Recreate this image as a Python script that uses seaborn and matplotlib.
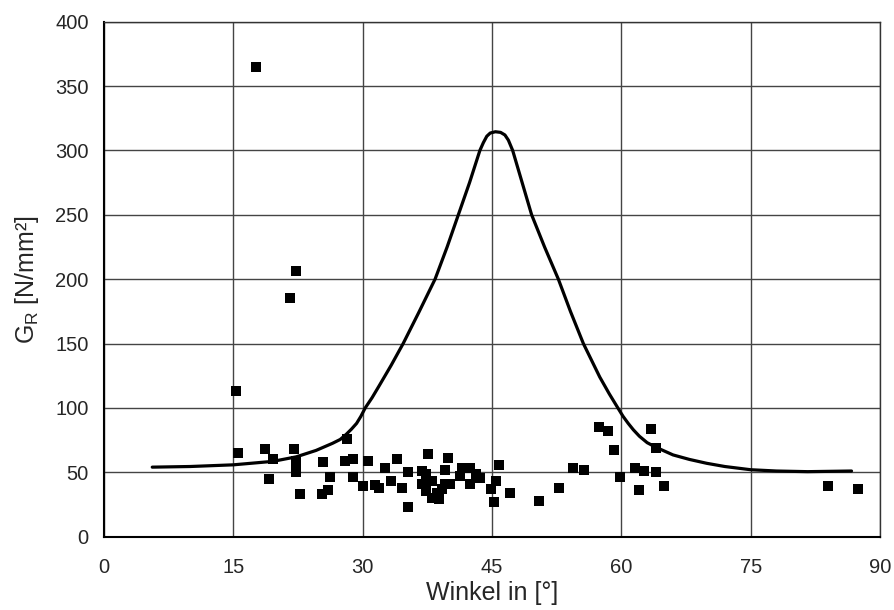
import numpy as np
import pandas as pd
import matplotlib
matplotlib.use("Agg")
import matplotlib.pyplot as plt
import seaborn as sns

# measured points (angle in degrees, G_R in N/mm^2)
winkel = [15.3, 15.6, 17.6, 18.7, 19.1, 19.6, 21.6, 22.3, 22.0, 22.3, 22.3, 22.3,
          22.7, 25.3, 25.4, 26.0, 26.2, 27.9, 28.2, 28.9, 28.9, 30.0, 30.6, 31.4,
          31.9, 32.6, 33.3, 34.0, 34.6, 35.3, 35.3, 36.9, 36.9, 37.4, 37.4, 37.6,
          38.0, 38.0, 38.6, 38.9, 39.2, 39.5, 39.6, 39.9, 40.1, 41.3, 41.5, 42.5,
          42.5, 43.2, 43.6, 44.9, 45.2, 45.5, 45.8, 47.1, 50.5, 52.8, 54.4, 55.7,
          57.4, 58.4, 59.1, 59.9, 61.6, 62.0, 62.6, 63.4, 64.0, 64.0, 65.0, 84.0,
          87.5]
g_mess = [113, 65, 365, 68, 44.5, 60, 185, 206, 68, 59, 55, 50,
          33, 33.5, 58, 36, 46, 59, 76, 60, 46, 39, 59, 40,
          38, 53, 43, 60, 38, 23, 50, 51, 41, 49, 35.5, 64.5,
          43, 30, 34, 29, 37, 52, 41, 61, 41, 47, 53, 53,
          41, 49, 45.5, 37, 27, 43, 56, 34, 28, 38, 53, 52,
          85, 82, 67, 46, 53.5, 36, 51, 83.5, 69, 50, 39, 39,
          37]

# theoretical curve
winkel_kurve = [5.6, 10, 15, 19.6, 22.3, 24.6, 26.5, 27.4, 28.1, 28.7, 29.3, 29.8,
                30.3, 31.1, 31.9, 33.3, 34.7, 36.5, 38.4, 39.8, 41.1, 42.4, 43.6,
                44.0, 44.4, 44.8, 45.4, 46.0, 46.5, 46.9, 47.4, 48.5, 49.6, 51.1,
                52.7, 54.1, 55.6, 57.5, 58.6, 59.6, 60.2, 60.8, 61.4, 62.1, 63.0,
                64.0, 66.0, 67.9, 69.9, 72.0, 75.0, 78.0, 81.6, 86.7]
g_kurve = [54, 54.5, 55.8, 58.5, 62, 67, 72.5, 75.5, 79.5, 83.5, 88, 93.5,
           100, 108, 117, 133, 150, 174, 200, 225, 250, 275, 300,
           306, 311, 313.5, 314.5, 314, 312, 308, 300, 275, 250, 225,
           200, 175, 150, 124, 111, 100, 93.5, 88, 83, 78, 73,
           69.5, 63.5, 60, 57, 54.5, 52, 51, 50.5, 51]

df_mess = pd.DataFrame({"Winkel": winkel, "G": g_mess})
df_kurve = pd.DataFrame({"Winkel": winkel_kurve, "G": g_kurve})

sns.set_style("white")
plt.rcParams["font.family"] = ["Liberation Sans", "DejaVu Sans"]

fig = plt.figure(figsize=(8.94, 6.10), dpi=100)
ax = fig.add_axes([0.1163, 0.1202, 0.868, 0.8443])

sns.lineplot(data=df_kurve, x="Winkel", y="G", color="black", linewidth=2.3,
             sort=False, ax=ax)
sns.scatterplot(data=df_mess, x="Winkel", y="G", marker="s", s=42,
                color="black", edgecolor="black", linewidth=0, ax=ax, zorder=3)

ax.set_xlim(0, 90)
ax.set_ylim(0, 400)
ax.set_xticks(range(0, 91, 15))
ax.set_yticks(range(0, 401, 50))
ax.grid(True, color="#444444", linewidth=1.0)
ax.set_axisbelow(True)

for side in ["left", "bottom"]:
    ax.spines[side].set_color("black")
    ax.spines[side].set_linewidth(1.5)
for side in ["top", "right"]:
    ax.spines[side].set_color("#333333")
    ax.spines[side].set_linewidth(1.0)

ax.tick_params(axis="both", direction="out", length=5, width=1, color="black",
               labelsize=14.5)
ax.tick_params(axis="x", pad=10)
ax.tick_params(axis="y", pad=6)
ax.set_xlabel("Winkel in [°]", fontsize=18, labelpad=3)
ax.set_ylabel(r"G$_\mathregular{R}$ [N/mm²]", fontsize=18, labelpad=10)

fig.savefig("out.png", dpi=100)
